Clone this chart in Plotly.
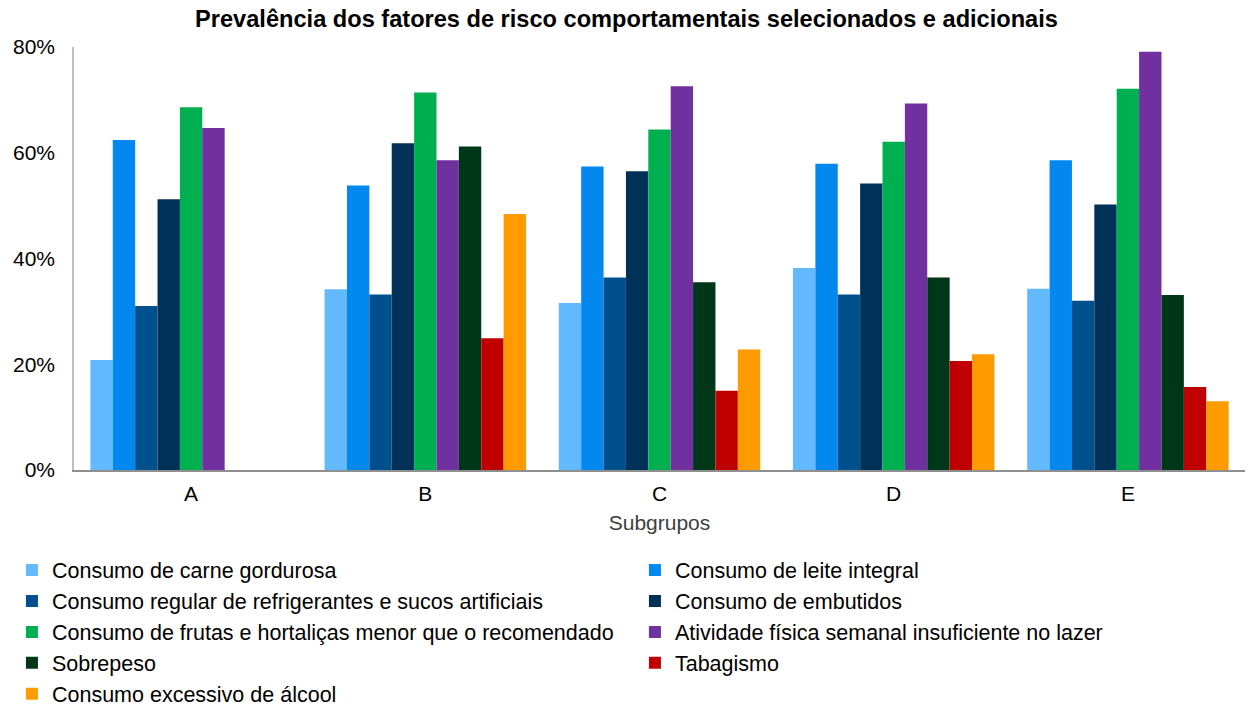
import plotly.graph_objects as go

subgrupos = ["A", "B", "C", "D", "E"]

carne_gordurosa = [20.8, 34.2, 31.6, 38.2, 34.3]
leite_integral = [62.4, 53.8, 57.4, 57.9, 58.6]
refrigerantes = [31.0, 33.2, 36.4, 33.2, 32.0]
embutidos = [51.2, 61.8, 56.5, 54.2, 50.2]
frutas_hortalicas = [68.6, 71.4, 64.4, 62.1, 72.1]
atividade_fisica = [64.7, 58.6, 72.6, 69.3, 79.1]
sobrepeso = [None, 61.2, 35.5, 36.4, 33.1]
tabagismo = [None, 24.9, 15.0, 20.6, 15.7]
alcool = [None, 48.4, 22.8, 21.9, 13.0]

series = [
    ("Consumo de carne gordurosa", carne_gordurosa, "#63B9FD"),
    ("Consumo de leite integral", leite_integral, "#0388F0"),
    ("Consumo regular de refrigerantes e sucos artificiais", refrigerantes, "#00508D"),
    ("Consumo de embutidos", embutidos, "#003158"),
    ("Consumo de frutas e hortaliças menor que o recomendado", frutas_hortalicas, "#00B050"),
    ("Atividade física semanal insuficiente no lazer", atividade_fisica, "#7030A0"),
    ("Sobrepeso", sobrepeso, "#003719"),
    ("Tabagismo", tabagismo, "#C00000"),
    ("Consumo excessivo de álcool", alcool, "#FF9A00"),
]

font_family = "Liberation Sans, Arial, sans-serif"

fig = go.Figure()
for name, values, color in series:
    fig.add_trace(go.Bar(
        x=subgrupos,
        y=[None if v is None else v / 100 for v in values],
        name=name,
        marker=dict(color=color, line=dict(width=0)),
    ))

fig.update_layout(
    width=1253,
    height=708,
    barmode="group",
    bargap=0.14,
    bargroupgap=0,
    plot_bgcolor="white",
    paper_bgcolor="white",
    font=dict(family=font_family, size=21, color="#000000"),
    margin=dict(l=74, r=8, t=47, b=238, autoexpand=False),
    title=dict(
        text="<b>Prevalência dos fatores de risco comportamentais selecionados e adicionais</b>",
        x=0.5, xanchor="center",
        y=0.974, yanchor="middle",
        font=dict(family=font_family, size=23.6, color="#000000"),
    ),
    xaxis=dict(
        showline=True, linecolor="#8F8F8F", linewidth=1.5,
        ticks="", showgrid=False,
        ticklabelstandoff=4,
        title=dict(text="Subgrupos", font=dict(size=21, color="#404040"), standoff=11),
        tickfont=dict(size=21, color="#000000"),
    ),
    yaxis=dict(
        range=[0, 0.8],
        tickvals=[0, 0.2, 0.4, 0.6, 0.8],
        tickformat=".0%",
        showline=True, linecolor="#BFBFBF", linewidth=1.5,
        showgrid=False, zeroline=False, ticks="",
        ticklabelstandoff=13,
        tickfont=dict(size=21, color="#000000"),
    ),
    legend=dict(
        orientation="h",
        x=-0.053, xanchor="left",
        y=-0.188, yanchor="top",
        entrywidth=578, entrywidthmode="pixels",
        font=dict(size=21.5, color="#000000"),
        traceorder="normal",
    ),
)

fig.write_html("out.html")
